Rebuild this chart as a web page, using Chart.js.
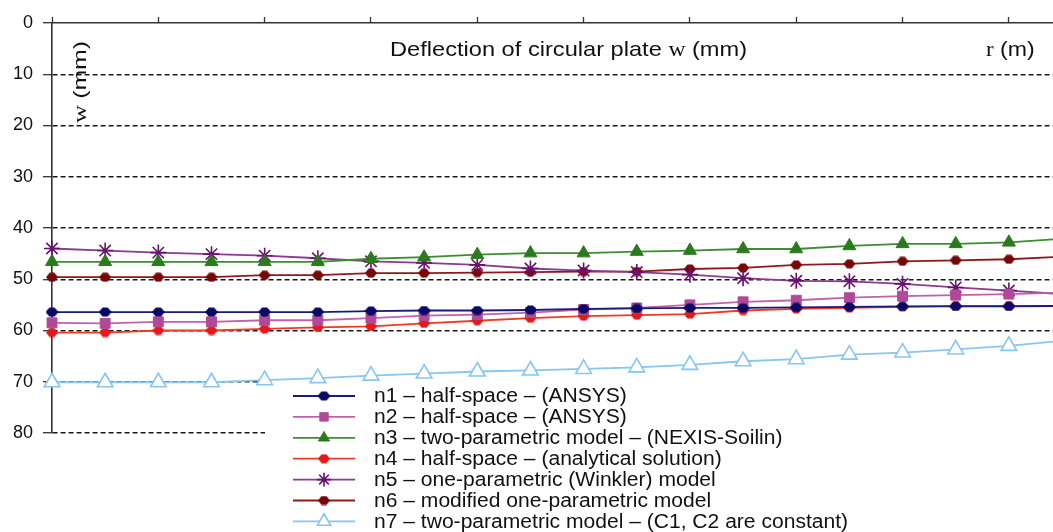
<!DOCTYPE html>
<html>
<head>
<meta charset="utf-8">
<title>Deflection of circular plate</title>
<script src="https://cdn.jsdelivr.net/npm/chart.js@4.4.1/dist/chart.umd.min.js"></script>
<style>
  html, body { margin: 0; padding: 0; background: #fff; }
  #wrap { width: 1053px; height: 532px; }
</style>
</head>
<body>
<div id="wrap"><canvas id="chartPlate" width="1053" height="532"></canvas></div>
<script>
// radius r (m) of the computed points, every 0.5 m
const radiusR = [0, 0.5, 1, 1.5, 2, 2.5, 3, 3.5, 4, 4.5, 5, 5.5, 6, 6.5, 7, 7.5, 8, 8.5, 9, 9.5];

// deflection w (mm) for each model
const n1 = [56.4, 56.4, 56.4, 56.4, 56.4, 56.4, 56.2, 56.1, 56.1, 56.0, 55.8, 55.7, 55.6, 55.6, 55.5, 55.4, 55.3, 55.3, 55.3, 55.2];
const n2 = [58.5, 58.6, 58.3, 58.3, 58.0, 58.0, 57.6, 57.1, 56.9, 56.5, 55.9, 55.6, 55.0, 54.4, 54.1, 53.6, 53.3, 53.1, 52.9, 52.6];
const n3 = [46.6, 46.6, 46.6, 46.6, 46.6, 46.6, 46.0, 45.7, 45.2, 44.9, 44.9, 44.6, 44.4, 44.1, 44.1, 43.5, 43.1, 43.1, 42.8, 42.1];
const n4 = [60.4, 60.4, 60.0, 60.0, 59.7, 59.4, 59.2, 58.6, 58.1, 57.6, 57.2, 57.0, 56.8, 56.1, 55.8, 55.6, 55.4, 55.2, 55.2, 55.2];
const n5 = [44.0, 44.4, 44.8, 45.1, 45.4, 45.9, 46.5, 46.8, 47.2, 47.9, 48.3, 48.6, 49.1, 49.8, 50.3, 50.4, 50.9, 51.6, 52.2, 52.9];
const n6 = [49.6, 49.6, 49.6, 49.6, 49.2, 49.2, 48.8, 48.8, 48.7, 48.6, 48.5, 48.5, 48.0, 47.8, 47.2, 47.0, 46.5, 46.3, 46.1, 45.6];
const n7 = [70.1, 70.1, 70.1, 70.1, 69.7, 69.3, 68.8, 68.4, 68.0, 67.8, 67.5, 67.2, 66.7, 66.0, 65.6, 64.7, 64.3, 63.7, 63.0, 62.0];

const seriesLabels = [
  'n1 – half-space – (ANSYS)',
  'n2 – half-space – (ANSYS)',
  'n3 – two-parametric model – (NEXIS-Soilin)',
  'n4 – half-space – (analytical solution)',
  'n5 – one-parametric (Winkler) model',
  'n6 – modified one-parametric model',
  'n7 – two-parametric model – (C1, C2 are constant)'
];

// w axis runs 0..80 mm downwards, r axis is cut at the right edge
const wMin = 0, wMax = 80, wStep = 10;
const rMax = 9.415, rStep = 1;

const SANS = "'Liberation Sans', Arial, sans-serif";
const SERIF = "'Liberation Serif', 'Times New Roman', serif";

// small "rounded diamond" marker used by n1, n4, n6
function hexMarker(color, w, h) {
  const c = document.createElement('canvas');
  c.width = w; c.height = h;
  const g = c.getContext('2d');
  g.fillStyle = color;
  g.beginPath();
  g.moveTo(0, h / 2);
  g.lineTo(w * 0.3, 0.5);
  g.lineTo(w * 0.7, 0.5);
  g.lineTo(w, h / 2);
  g.lineTo(w * 0.7, h - 0.5);
  g.lineTo(w * 0.3, h - 0.5);
  g.closePath();
  g.fill();
  return c;
}

function series(values, line, marker, style, r, extra) {
  return Object.assign({
    data: values.map((v, i) => ({ x: radiusR[i], y: v })),
    borderColor: line,
    borderWidth: 1.8,
    backgroundColor: marker,
    pointBorderColor: marker,
    pointBackgroundColor: marker,
    pointStyle: style,
    pointRadius: r,
    pointBorderWidth: 1,
    tension: 0,
    clip: false
  }, extra || {});
}

const datasets = [
  series(n1, '#1a1a78', '#0a0a66', hexMarker('#0a0a66', 13, 10), 6),
  series(n2, '#c062aa', '#b04a98', 'rect', 7),
  series(n3, '#3e8c32', '#2c7a1e', 'triangle', 7.5),
  series(n4, '#ee3a22', '#e41a1a', hexMarker('#e41a1a', 12, 10), 6),
  series(n5, '#8a3a90', '#6a106e', 'star', 8, { pointBorderWidth: 1.6 }),
  series(n6, '#8c1a1a', '#760808', hexMarker('#760808', 12, 10), 6),
  series(n7, '#86c6f0', '#86c6f0', 'triangle', 9, { pointBackgroundColor: '#ffffff', pointBorderWidth: 1.6 })
];
datasets.forEach((d, i) => { d.label = seriesLabels[i]; });

// text drawn with mixed fonts, stretched sideways by sx
function drawParts(ctx, parts, x, y, sx) {
  ctx.save();
  ctx.translate(x, y);
  ctx.scale(sx, 1);
  let cx = 0;
  parts.forEach(p => {
    ctx.font = p.font;
    ctx.fillText(p.text, cx, 0);
    cx += ctx.measureText(p.text).width;
  });
  ctx.restore();
}

const plateDecor = {
  id: 'plateDecor',
  // white legend panel hides the grid behind it
  beforeDatasetsDraw(chart) {
    const ctx = chart.ctx;
    ctx.save();
    ctx.fillStyle = '#ffffff';
    ctx.fillRect(265, 381, chart.width - 265, chart.height - 381);
    ctx.restore();
  },
  afterDraw(chart) {
    const ctx = chart.ctx;
    ctx.save();
    ctx.fillStyle = '#111';
    ctx.textBaseline = 'alphabetic';

    drawParts(ctx, [
      { text: 'Deflection of circular plate ', font: '21px ' + SANS },
      { text: 'w', font: '21px ' + SERIF },
      { text: ' (mm)', font: '21px ' + SANS }
    ], 390, 56, 1.125);

    drawParts(ctx, [
      { text: 'r', font: '21px ' + SERIF },
      { text: ' (m)', font: '21px ' + SANS }
    ], 986, 56, 1.1);

    // vertical axis caption, reading upwards
    ctx.save();
    ctx.translate(86, 123);
    ctx.rotate(-Math.PI / 2);
    ctx.scale(1.38, 1.0);
    ctx.font = '18px ' + SERIF;
    ctx.fillText('w', 0, 0);
    const wW = ctx.measureText('w ').width;
    ctx.font = '18px ' + SANS;
    ctx.fillText('(mm)', wW, 0);
    ctx.restore();

    // legend
    const lx1 = 293, lx2 = 355, mx = 324, tx = 374, y0 = 396, dy = 20.9;
    chart.data.datasets.forEach((ds, i) => {
      const y = y0 + i * dy;
      ctx.strokeStyle = ds.borderColor;
      ctx.lineWidth = 1.8;
      ctx.beginPath();
      ctx.moveTo(lx1, y);
      ctx.lineTo(lx2, y);
      ctx.stroke();
      ctx.fillStyle = ds.pointBackgroundColor;
      ctx.strokeStyle = ds.pointBorderColor;
      ctx.lineWidth = ds.pointBorderWidth;
      Chart.helpers.drawPoint(ctx, {
        pointStyle: ds.pointStyle,
        radius: ds.pointRadius * 0.85,
        rotation: 0,
        borderWidth: ds.pointBorderWidth
      }, mx, y);
      ctx.fillStyle = '#111';
      ctx.textBaseline = 'middle';
      drawParts(ctx, [{ text: ds.label, font: '19.5px ' + SANS }], tx, y + 1, 1.08);
    });
    ctx.restore();
  }
};

new Chart(document.getElementById('chartPlate').getContext('2d'), {
  type: 'line',
  data: { datasets },
  options: {
    responsive: false,
    animation: false,
    layout: { autoPadding: false, padding: { top: 0, left: 0, right: 0, bottom: 99 } },
    plugins: {
      legend: { display: false },
      tooltip: { enabled: false }
    },
    scales: {
      x: {
        type: 'linear',
        position: 'top',
        min: 0,
        max: rMax,
        afterFit(scale) { scale.height = 23; },
        ticks: { display: false, stepSize: rStep, includeBounds: false },
        grid: {
          drawOnChartArea: false,
          drawTicks: true,
          tickLength: 6,
          tickColor: '#333',
          tickWidth: 1.3
        },
        border: { display: true, color: '#333', width: 1.6 }
      },
      y: {
        type: 'linear',
        reverse: true,
        min: wMin,
        max: wMax,
        afterFit(scale) { scale.width = 52; },
        ticks: {
          stepSize: wStep,
          padding: 10,
          color: '#111',
          font: { family: SANS, size: 18 }
        },
        grid: {
          color: ctx => (ctx.tick && ctx.tick.value === 0) ? 'rgba(0,0,0,0)' : '#1a1a1a',
          lineWidth: 1.4,
          drawTicks: true,
          tickLength: 9,
          tickColor: '#333',
          tickWidth: 1.3,
          tickBorderDash: []
        },
        border: { display: true, color: '#333', width: 1.6, dash: [5, 3] }
      }
    }
  },
  plugins: [plateDecor]
});
</script>
</body>
</html>
